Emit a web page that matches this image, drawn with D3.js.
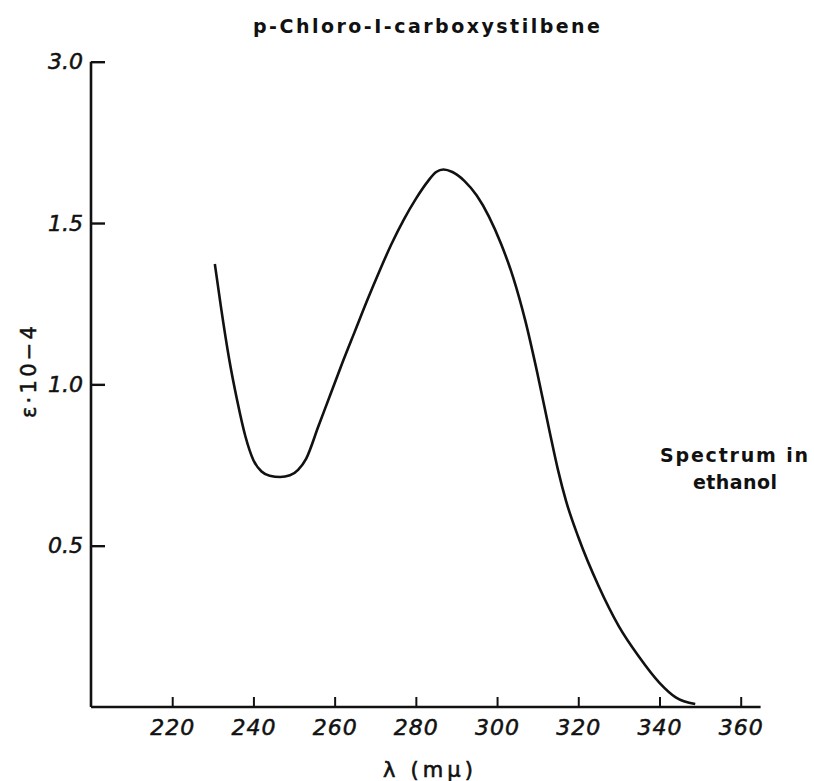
<!DOCTYPE html>
<html lang="en">
<head>
    <meta charset="UTF-8">
    <title>p-Chloro-I-carboxystilbene</title>
    <script src="https://d3js.org/d3.v7.min.js"></script>
    <style>
        body { margin: 0; background: #fff; }
        svg { display: block; }
        .lbl { font-family: "DejaVu Sans", "Liberation Sans", sans-serif; fill: #111; }
        .tick text { font-family: "DejaVu Sans", "Liberation Sans", sans-serif; font-style: italic; fill: #111; }
    </style>
</head>
<body>
<svg id="chart" width="814" height="781"></svg>
<script>
    // wavelength (mμ) and ε·10^-4
    const wavelength = [230.5, 232, 234, 236, 238, 240, 242, 244, 246.6, 249,
                        251, 253, 256, 259, 262, 265, 268, 271, 274, 277,
                        280, 283, 285, 286.8, 289, 292, 295, 298, 301, 304,
                        307, 310, 313, 315, 317, 320, 325, 330, 335, 340, 344, 348.8];
    const epsilon = [1.373, 1.24, 1.08, 0.95, 0.84, 0.765, 0.73, 0.717, 0.713, 0.718,
                     0.735, 0.77, 0.87, 0.97, 1.07, 1.165, 1.26, 1.35, 1.435, 1.51,
                     1.575, 1.63, 1.658, 1.666, 1.658, 1.63, 1.585, 1.52, 1.435, 1.33,
                     1.195, 1.03, 0.85, 0.735, 0.638, 0.527, 0.375, 0.25, 0.155, 0.075, 0.03, 0.009];

    const xTicks = [220, 240, 260, 280, 300, 320, 340, 360];
    // the top tick sits where 2.0 would be, but is printed "3.0"
    const yTicks = [0.5, 1.0, 1.5, 2.0];
    const yTickLabels = ["0.5", "1.0", "1.5", "3.0"];

    const svg = d3.select("#chart");

    const x = d3.scaleLinear().domain([200, 360]).range([91, 740.7]);
    const y = d3.scaleLinear().domain([0, 2]).range([707, 61.7]);

    // x axis, ticks pointing up
    const gx = svg.append("g")
        .attr("transform", "translate(0," + y(0) + ")")
        .call(d3.axisBottom(x).tickValues(xTicks).tickSize(-10).tickPadding(12).tickFormat(d3.format("d")));
    gx.select(".domain").remove();
    gx.selectAll(".tick line").attr("stroke", "#111").attr("stroke-width", 2);
    gx.selectAll(".tick text").attr("font-size", 22).attr("letter-spacing", 1)
        .attr("stroke", "#111").attr("stroke-width", 0.5);

    svg.append("line")
        .attr("x1", x(200)).attr("x2", x(364.9))
        .attr("y1", y(0)).attr("y2", y(0))
        .attr("stroke", "#111").attr("stroke-width", 2.6);

    // y axis, ticks pointing right
    const gy = svg.append("g")
        .attr("transform", "translate(" + x(200) + ",0)")
        .call(d3.axisLeft(y).tickValues(yTicks).tickSize(-14).tickPadding(10)
            .tickFormat((d, i) => yTickLabels[i]));
    gy.select(".domain").remove();
    gy.selectAll(".tick line").attr("stroke", "#111").attr("stroke-width", 2.4);
    gy.selectAll(".tick text").attr("font-size", 22).attr("x", -8)
        .attr("stroke", "#111").attr("stroke-width", 0.5);

    svg.append("line")
        .attr("x1", x(200)).attr("x2", x(200))
        .attr("y1", y(0)).attr("y2", y(2))
        .attr("stroke", "#111").attr("stroke-width", 2.6);

    // spectrum curve
    const pts = wavelength.map((w, i) => [w, epsilon[i]]);
    const line = d3.line()
        .x(d => x(d[0]))
        .y(d => y(d[1]))
        .curve(d3.curveMonotoneX);

    svg.append("path")
        .datum(pts)
        .attr("d", line)
        .attr("fill", "none")
        .attr("stroke", "#111")
        .attr("stroke-width", 2.6)
        .attr("stroke-linejoin", "round");

    // title
    svg.append("text").attr("class", "lbl")
        .attr("x", 253).attr("y", 33)
        .attr("font-size", 19).attr("font-weight", "bold")
        .attr("textLength", 347).attr("lengthAdjust", "spacing")
        .text("p-Chloro-I-carboxystilbene");

    // axis titles
    svg.append("text").attr("class", "lbl")
        .attr("x", 383).attr("y", 777)
        .attr("font-size", 21)
        .attr("stroke", "#111").attr("stroke-width", 0.6)
        .attr("textLength", 90).attr("lengthAdjust", "spacing")
        .text("λ  (mμ)");

    svg.append("text").attr("class", "lbl")
        .attr("transform", "translate(36,418) rotate(-90)")
        .attr("font-size", 21)
        .attr("stroke", "#111").attr("stroke-width", 0.5)
        .attr("textLength", 92).attr("lengthAdjust", "spacing")
        .text("ε·10−4");

    // note
    svg.append("text").attr("class", "lbl")
        .attr("x", 660).attr("y", 462)
        .attr("font-size", 19).attr("font-weight", "bold")
        .attr("textLength", 148).attr("lengthAdjust", "spacing")
        .text("Spectrum  in");
    svg.append("text").attr("class", "lbl")
        .attr("x", 693).attr("y", 489)
        .attr("font-size", 19).attr("font-weight", "bold")
        .attr("textLength", 84).attr("lengthAdjust", "spacing")
        .text("ethanol");
</script>
</body>
</html>
